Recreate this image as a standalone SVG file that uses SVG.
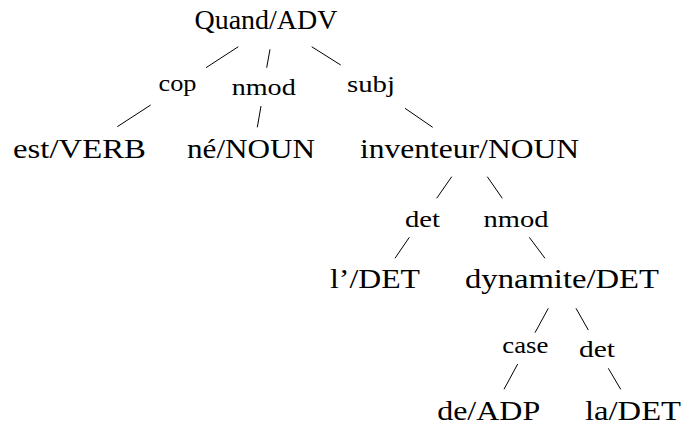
<svg xmlns="http://www.w3.org/2000/svg" width="684" height="426" viewBox="0 0 684 426">
<style>
text { font-family: 'Liberation Serif', 'DejaVu Serif', 'Noto Serif', 'Times New Roman', Times, 'Nimbus Roman', FreeSerif, serif; fill: #000; text-anchor: middle; }
.node { font-size: 28px; }
.lab { font-size: 24px; }
.edge { stroke: #000; stroke-width: 1; fill: none; }
</style>
<rect width="684" height="426" fill="#fff"/>
<g id="connectors">
<line class="edge" x1="238.3" y1="46.7" x2="206" y2="67.7"/>
<line class="edge" x1="270" y1="49.3" x2="266.7" y2="67.7"/>
<line class="edge" x1="311.7" y1="46.7" x2="340.7" y2="65"/>
<line class="edge" x1="150.7" y1="105" x2="117.3" y2="126.7"/>
<line class="edge" x1="261" y1="106" x2="257.3" y2="127.3"/>
<line class="edge" x1="405" y1="108.3" x2="432.7" y2="127.3"/>
<line class="edge" x1="451.7" y1="176.7" x2="436.7" y2="198.3"/>
<line class="edge" x1="487.3" y1="176.7" x2="502.3" y2="198.3"/>
<line class="edge" x1="409.3" y1="237.3" x2="395" y2="258.3"/>
<line class="edge" x1="529.3" y1="237.3" x2="545" y2="258.3"/>
<line class="edge" x1="548.3" y1="308.3" x2="535" y2="332.7"/>
<line class="edge" x1="576" y1="308.3" x2="588.3" y2="330"/>
<line class="edge" x1="517.7" y1="364" x2="504" y2="389.3"/>
<line class="edge" x1="608.3" y1="368.3" x2="620.7" y2="389.3"/>
</g>
<g id="edge-labels">
<text class="lab" x="177.5" y="91" textLength="38" lengthAdjust="spacingAndGlyphs">cop</text>
<text class="lab" x="263.7" y="95" textLength="64" lengthAdjust="spacingAndGlyphs">nmod</text>
<text class="lab" x="371" y="92" textLength="48" lengthAdjust="spacingAndGlyphs">subj</text>
<text class="lab" x="422.5" y="226.7" textLength="35" lengthAdjust="spacingAndGlyphs">det</text>
<text class="lab" x="516" y="226.7" textLength="65" lengthAdjust="spacingAndGlyphs">nmod</text>
<text class="lab" x="525.3" y="353.3" textLength="46" lengthAdjust="spacingAndGlyphs">case</text>
<text class="lab" x="597" y="356.7" textLength="36" lengthAdjust="spacingAndGlyphs">det</text>
</g>
<g id="n-quand"><text class="node" x="266" y="29" textLength="143" lengthAdjust="spacingAndGlyphs">Quand/ADV</text></g>
<g id="n-est"><text class="node" x="79.5" y="158" textLength="133" lengthAdjust="spacingAndGlyphs">est/VERB</text></g>
<g id="n-ne"><text class="node" x="251" y="158" textLength="128" lengthAdjust="spacingAndGlyphs">né/NOUN</text></g>
<g id="n-inventeur"><text class="node" x="469.5" y="158" textLength="219" lengthAdjust="spacingAndGlyphs">inventeur/NOUN</text></g>
<g id="n-l"><text class="node" x="375" y="288.3" textLength="90" lengthAdjust="spacingAndGlyphs">l’/DET</text></g>
<g id="n-dynamite"><text class="node" x="562" y="288.3" textLength="194" lengthAdjust="spacingAndGlyphs">dynamite/DET</text></g>
<g id="n-de"><text class="node" x="488.7" y="420" textLength="103" lengthAdjust="spacingAndGlyphs">de/ADP</text></g>
<g id="n-la"><text class="node" x="633" y="420" textLength="96" lengthAdjust="spacingAndGlyphs">la/DET</text></g>
</svg>
